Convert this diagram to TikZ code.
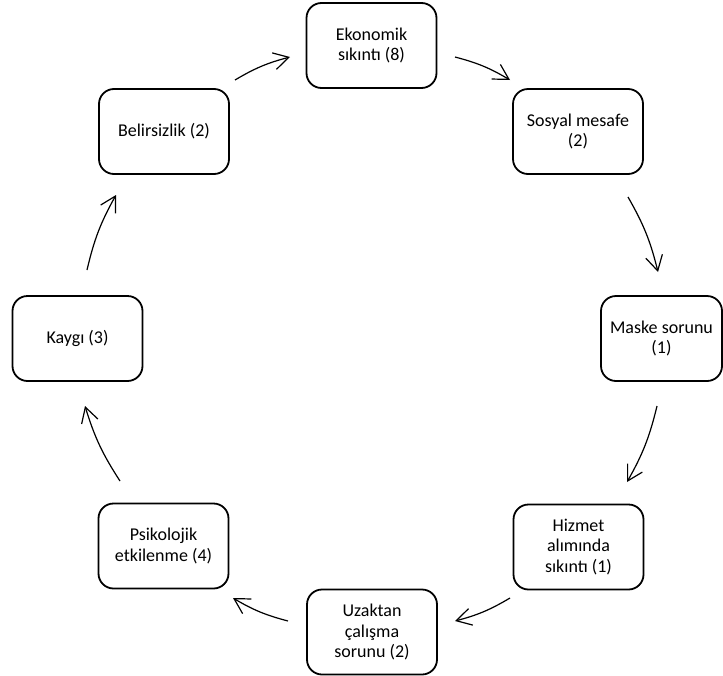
\documentclass[tikz,border=0pt]{standalone}
\usepackage{fontspec}
\setmainfont{Carlito}
\usetikzlibrary{arrows.meta}
\begin{document}
\begin{tikzpicture}[x=1pt,y=-1pt,
  box/.style={draw, line width=1.8pt, rounded corners=15pt, minimum width=130pt, minimum height=85pt,
    align=center, inner sep=2pt, font=\fontsize{18}{20.5}\selectfont},
  link/.style={line width=1.2pt, -{Straight Barb[length=15pt,width=17pt]}, bend left=8}]
\useasboundingbox (0,0) rectangle (723,675);

\node[box] (E) at (371.5,45.5) {Ekonomik\\sıkıntı (8)};
\node[box] (S) at (578,131.5) {Sosyal mesafe\\(2)};
\node[box, minimum width=121pt] (M) at (661.5,338.5) {Maske sorunu\\(1)};
\node[box] (H) at (578.5,547) {Hizmet\\alımında\\sıkıntı (1)};
\node[box] (U) at (372,632) {Uzaktan\\çalışma\\sorunu (2)};
\node[box] (P) at (163.5,546) {Psikolojik\\etkilenme (4)};
\node[box] (K) at (77.5,338.5) {Kaygı (3)};
\node[box] (B) at (164,131.5) {Belirsizlik (2)};

\coordinate (be1) at (235,80);  \coordinate (be2) at (290,57);
\coordinate (es1) at (455,57);  \coordinate (es2) at (510,80);
\coordinate (sm1) at (628,197); \coordinate (sm2) at (658,272);
\coordinate (mh1) at (657,406); \coordinate (mh2) at (627,482);
\coordinate (hu1) at (510,598); \coordinate (hu2) at (455,621);
\coordinate (up1) at (288,621); \coordinate (up2) at (233,598);
\coordinate (pk1) at (120,481); \coordinate (pk2) at (85,406);
\coordinate (kb1) at (87,270);  \coordinate (kb2) at (116,195);

\draw[link] (be1) to (be2);
\draw[link] (es1) to (es2);
\draw[link] (sm1) to (sm2);
\draw[link] (mh1) to (mh2);
\draw[link] (hu1) to (hu2);
\draw[link] (up1) to (up2);
\draw[link] (pk1) to (pk2);
\draw[link] (kb1) to (kb2);
\end{tikzpicture}
\end{document}
